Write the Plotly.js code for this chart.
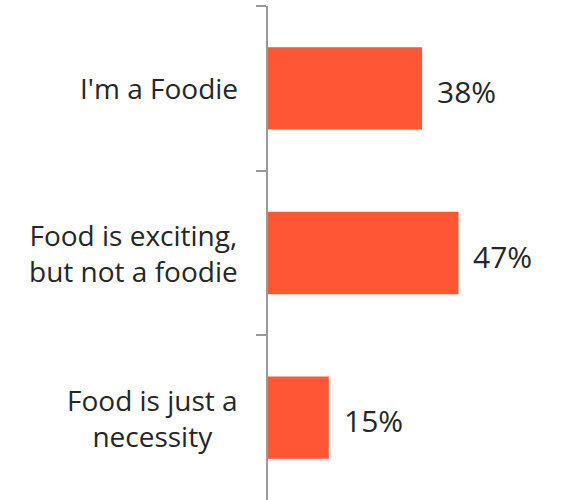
<!DOCTYPE html>
<html>
<head>
<meta charset="utf-8">
<script src="https://cdn.plot.ly/plotly-3.0.1.min.js"></script>
<style>html,body{margin:0;padding:0;background:#fff;overflow:hidden}</style>
</head>
<body>
<div id="chart" style="width:561px;height:500px"></div>
<script>
const categories = ["I'm a Foodie", "Food is exciting,<br>but not a foodie", "Food is just a<br>necessity"];
const values = [38, 47, 15];
const valueLabels = ["38%", "47%", "15%"];

const barColor = "#FF5636";
const textColor = "#262626";
const fontFamily = "'Open Sans', 'Noto Sans', sans-serif";

const trace = {
  type: "bar",
  orientation: "h",
  y: categories,
  x: values,
  marker: {color: barColor},
  width: 0.5,
  hoverinfo: "skip"
};

const annotations = [];
categories.forEach((c, i) => {
  annotations.push({
    xref: "paper", x: 0, yref: "y", y: c,
    xanchor: "right", yanchor: "middle", xshift: -28,
    text: c, showarrow: false, align: "center",
    font: {family: fontFamily, size: 28, color: textColor}
  });
  annotations.push({
    xref: "x", x: values[i], yref: "y", y: c,
    xanchor: "left", yanchor: "middle", xshift: 13, yshift: -3,
    text: valueLabels[i], showarrow: false,
    font: {family: fontFamily, size: 30, color: textColor}
  });
});

const layout = {
  width: 561, height: 500,
  margin: {l: 268, r: 0, t: 6, b: 0, pad: 0},
  paper_bgcolor: "#fff", plot_bgcolor: "#fff",
  showlegend: false,
  xaxis: {range: [0, 72.3], visible: false, fixedrange: true},
  yaxis: {
    type: "category", autorange: "reversed",
    showline: true, linecolor: "#999999", linewidth: 2,
    ticks: "outside", ticklen: 10, tickwidth: 2, tickcolor: "#999999",
    tickson: "boundaries", showticklabels: false, showgrid: false, zeroline: false
  },
  annotations: annotations
};

Plotly.newPlot("chart", [trace], layout, {displayModeBar: false, staticPlot: true});
</script>
</body>
</html>
